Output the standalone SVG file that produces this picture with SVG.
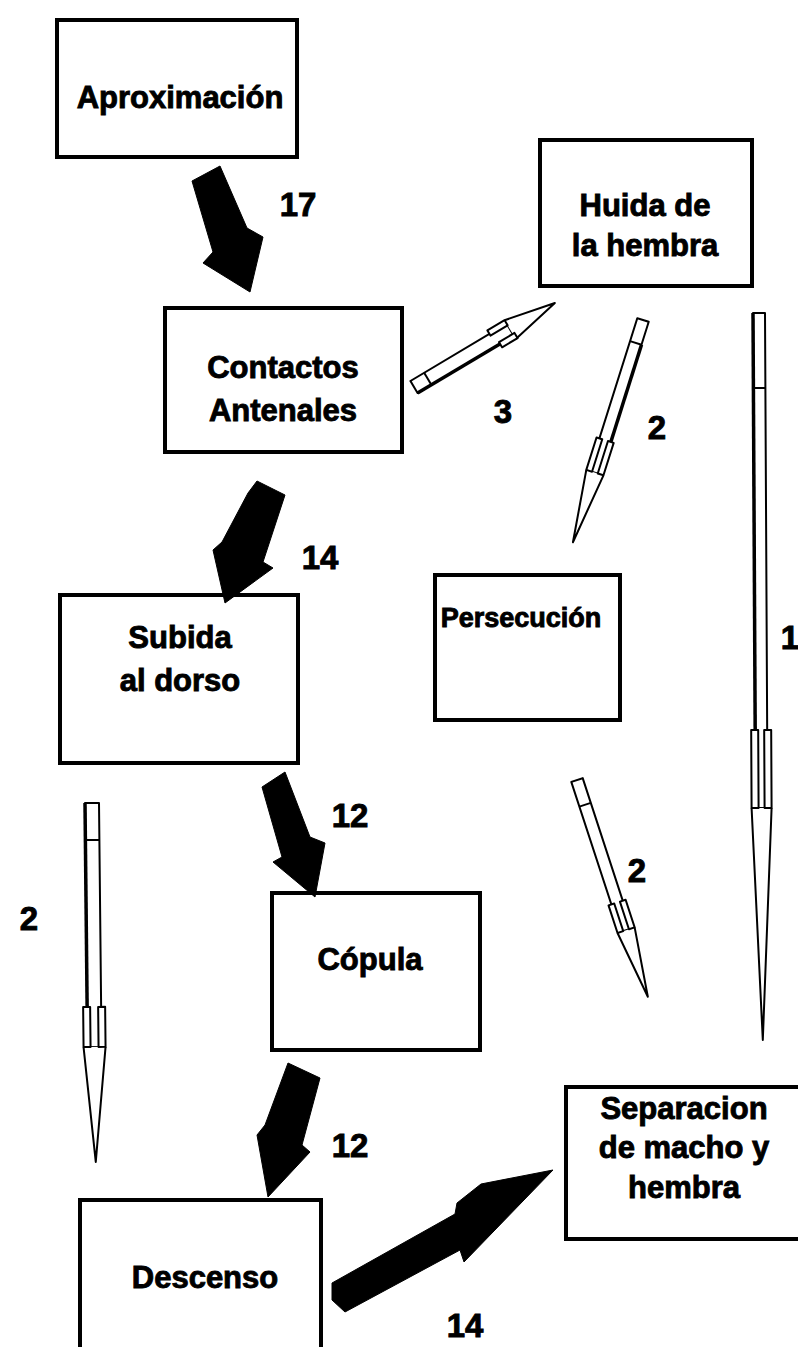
<svg xmlns="http://www.w3.org/2000/svg" width="798" height="1347" viewBox="0 0 798 1347">
  <style>
    .box { fill: #fff; stroke: #000; stroke-width: 4; }
    .lbl { font-family: "Liberation Sans", Arial, sans-serif; font-weight: bold; font-size: 31px; fill: #000; stroke: #000; stroke-width: 0.9; text-anchor: middle; }
    .num { font-family: "Liberation Sans", Arial, sans-serif; font-weight: bold; font-size: 33px; fill: #000; stroke: #000; stroke-width: 0.9; text-anchor: middle; }
    .solid { fill: #000; stroke: #000; stroke-width: 1; stroke-linejoin: round; }
    .hollow { fill: #fff; stroke: #000; stroke-width: 2; stroke-linejoin: round; }
    .hline { fill: none; stroke: #000; stroke-width: 2; }
    .edge { fill: none; stroke: #000; stroke-width: 3.5; }
  </style>

  <rect width="798" height="1347" fill="#fff"/>

  <!-- nodes -->
  <g id="aproximacion">
    <rect class="box" x="57" y="20" width="240" height="137"/>
    <text class="lbl" x="180" y="108">Aproximación</text>
  </g>
  <g id="huida">
    <rect class="box" x="540" y="140" width="212" height="146"/>
    <text class="lbl" x="645" y="216">Huida de</text>
    <text class="lbl" x="645" y="256">la hembra</text>
  </g>
  <g id="contactos">
    <rect class="box" x="165" y="308" width="237" height="144"/>
    <text class="lbl" x="283" y="378">Contactos</text>
    <text class="lbl" x="283" y="421">Antenales</text>
  </g>
  <g id="subida">
    <rect class="box" x="60" y="595" width="238" height="168"/>
    <text class="lbl" x="180" y="648">Subida</text>
    <text class="lbl" x="180" y="691">al dorso</text>
  </g>
  <g id="persecucion">
    <rect class="box" x="435" y="575" width="185" height="145"/>
    <text class="lbl" x="521" y="627" style="font-size:27px">Persecución</text>
  </g>
  <g id="copula">
    <rect class="box" x="272" y="893" width="208" height="157"/>
    <text class="lbl" x="370" y="970">Cópula</text>
  </g>
  <g id="descenso">
    <rect class="box" x="80" y="1200" width="241" height="160"/>
    <text class="lbl" x="205" y="1288">Descenso</text>
  </g>
  <g id="separacion">
    <rect class="box" x="566" y="1087" width="240" height="152"/>
    <text class="lbl" x="684" y="1119">Separacion</text>
    <text class="lbl" x="684" y="1158">de macho y</text>
    <text class="lbl" x="684" y="1198">hembra</text>
  </g>

  <!-- connectors -->
  <g id="connectors">
    <!-- solid arrows -->
    <polygon class="solid" points="192,181 220,166 247,228 263,237 250,292 203,263 213,252"/>
    <polygon class="solid" points="257,481 285,495 263,562 273,568 225,603 213,550 222,542 248,493"/>
    <polygon class="solid" points="262,787 285,772 310,837 325,843 315,897 273,862 282,857"/>
    <polygon class="solid" points="288,1063 320,1078 302,1145 310,1152 268,1197 257,1135 265,1125"/>
    <polygon class="solid" points="332,1283 455,1214 457,1203 481,1184 553,1170 464,1262 460,1250 345,1312 332,1300"/>

    <!-- hollow arrows: drawn along +x from tail, then placed -->
    <!-- Contactos -> Huida (3) -->
    <g transform="translate(414,387) rotate(-30.8)">
      <rect class="hollow" x="0" y="-7" width="112" height="14"/>
      <path class="edge" d="M0,7 H112"/>
      <path class="hollow" d="M112,-11 L164,0 L112,11"/>
      <rect class="hollow" x="92" y="-11" width="20" height="6"/>
      <rect class="hollow" x="96" y="5" width="18" height="6"/>
      <path class="hline" d="M16,-7 V7"/>
    </g>
    <!-- Huida -> Persecucion (2) -->
    <g transform="translate(643,320) rotate(107.5)">
      <rect class="hollow" x="0" y="-6" width="160" height="12"/>
      <path class="edge" d="M24,-6 H126"/>
      <path class="hollow" d="M160,-9 L233,0 L160,9"/>
      <rect class="hollow" x="126" y="-9" width="34" height="6"/>
      <rect class="hollow" x="126" y="3" width="34" height="6"/>
      <path class="hline" d="M24,-6 V6"/>
    </g>
    <!-- Persecucion -> Separacion (2) -->
    <g transform="translate(577,780) rotate(71.9)">
      <rect class="hollow" x="0" y="-6" width="158" height="12"/>
      <path class="hollow" d="M158,-9 L228,0 L158,9"/>
      <rect class="hollow" x="129" y="-9" width="29" height="6"/>
      <rect class="hollow" x="129" y="3" width="29" height="6"/>
      <path class="hline" d="M26,-6 V6"/>
    </g>
    <!-- Huida -> Separacion (1) -->
    <g transform="translate(759,313) rotate(89.7)">
      <rect class="hollow" x="0" y="-6" width="495" height="12"/>
      <path class="edge" d="M0,6 H417"/>
      <path class="hollow" d="M495,-10 L727,0 L495,10"/>
      <rect class="hollow" x="417" y="-10" width="78" height="7"/>
      <rect class="hollow" x="417" y="3" width="78" height="7"/>
      <path class="hline" d="M75,-6 V6"/>
    </g>
    <!-- Subida -> Descenso side (2) -->
    <g transform="translate(92,803) rotate(89.4)">
      <rect class="hollow" x="0" y="-7" width="244" height="14"/>
      <path class="edge" d="M0,7 H204"/>
      <path class="hollow" d="M244,-11 L359,0 L244,11"/>
      <rect class="hollow" x="204" y="-11" width="40" height="7"/>
      <rect class="hollow" x="204" y="4" width="40" height="7"/>
      <path class="hline" d="M37,-7 V7"/>
    </g>

    <!-- counts -->
    <text class="num" x="298" y="216">17</text>
    <text class="num" x="503" y="423">3</text>
    <text class="num" x="657" y="439">2</text>
    <text class="num" x="320" y="569">14</text>
    <text class="num" x="790" y="649">1</text>
    <text class="num" x="350" y="827">12</text>
    <text class="num" x="637" y="882">2</text>
    <text class="num" x="29" y="930">2</text>
    <text class="num" x="350" y="1157">12</text>
    <text class="num" x="465" y="1337">14</text>
  </g>
</svg>
